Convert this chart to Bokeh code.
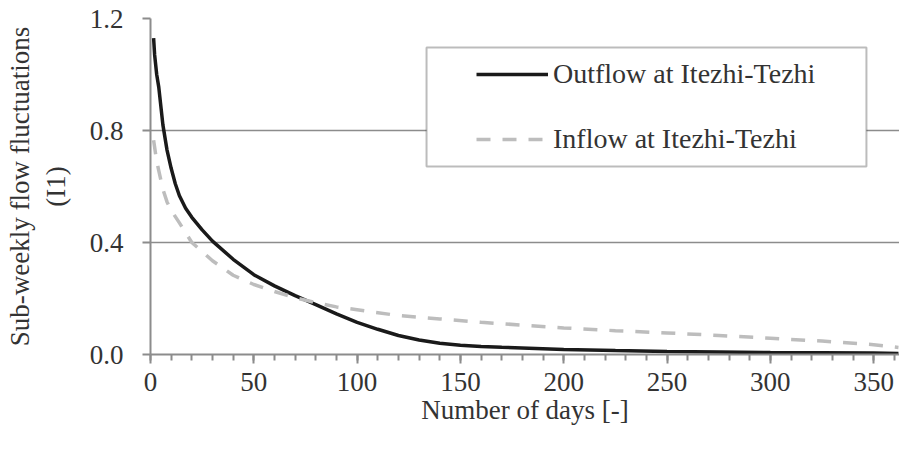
from bokeh.plotting import figure
from bokeh.models import (Legend, LegendItem, BoxAnnotation, FixedTicker,
                          SingleIntervalTicker, NumeralTickFormatter, Range1d)
from bokeh.embed import file_html
from bokeh.resources import INLINE

# ---- data ----
days = [1.5, 2, 3, 4, 6, 8, 10, 12, 14, 17, 20, 25, 30, 40, 50, 60, 70, 80,
        90, 100, 110, 120, 130, 140, 150, 160, 170, 200, 225, 250, 275, 300,
        325, 350, 362]
outflow = [1.13, 1.07, 1.0, 0.955, 0.82, 0.73, 0.665, 0.61, 0.567, 0.522,
           0.49, 0.445, 0.405, 0.34, 0.285, 0.245, 0.21, 0.178, 0.145, 0.115,
           0.09, 0.068, 0.052, 0.04, 0.033, 0.029, 0.026, 0.018, 0.014,
           0.011, 0.009, 0.007, 0.006, 0.005, 0.004]
inflow_days = [1.5, 2, 3, 4, 6, 8, 10, 14, 20, 30, 40, 50, 60, 70, 80, 90,
               100, 120, 140, 160, 180, 200, 225, 250, 275, 300, 325, 350, 362]
inflow = [0.765, 0.74, 0.69, 0.657, 0.59, 0.545, 0.515, 0.47, 0.40, 0.335,
          0.283, 0.25, 0.225, 0.203, 0.185, 0.17, 0.16, 0.139, 0.127, 0.115,
          0.105, 0.095, 0.085, 0.077, 0.068, 0.058, 0.048, 0.035, 0.025]
y_ticks = [0.0, 0.4, 0.8, 1.2]
series_names = ["Outflow at Itezhi-Tezhi", "Inflow at Itezhi-Tezhi"]

FONT = "Liberation Serif"
TXT = "#333333"
GRAY = "#8c8c8c"

p = figure(width=899, height=450, output_backend="svg", toolbar_location=None,
           x_range=Range1d(0, 362.5), y_range=Range1d(0, 1.2),
           min_border_left=150, min_border_right=0, min_border_top=18,
           min_border_bottom=96)
p.outline_line_color = None

r_out = p.line(days, outflow, line_color="#1a1a1a", line_width=3.5)
r_in = p.line(inflow_days, inflow, line_color="#bdbdbd", line_width=3.5,
              line_dash="14 12")

# axes
p.xaxis.ticker = SingleIntervalTicker(interval=50, num_minor_ticks=5)
p.yaxis.ticker = FixedTicker(ticks=y_ticks, minor_ticks=[])
p.yaxis.formatter = NumeralTickFormatter(format="0.0")
for ax in (p.xaxis[0], p.yaxis[0]):
    ax.axis_line_color = GRAY
    ax.axis_line_width = 2
    ax.major_tick_line_color = GRAY
    ax.major_tick_line_width = 2
    ax.minor_tick_line_color = GRAY
    ax.minor_tick_line_width = 2
    ax.major_tick_in = 0
    ax.minor_tick_in = 0
    ax.major_label_text_font = FONT
    ax.major_label_text_font_size = "27px"
    ax.major_label_text_color = TXT
    ax.axis_label_text_font = FONT
    ax.axis_label_text_font_size = "27px"
    ax.axis_label_text_font_style = "normal"
    ax.axis_label_text_color = TXT
p.xaxis.major_tick_out = 9
p.xaxis.minor_tick_out = 6
p.yaxis.major_tick_out = 8
p.yaxis.minor_tick_out = 0
p.xaxis.major_label_standoff = 9
p.yaxis.major_label_standoff = 19
p.xaxis.axis_label = "Number of days [-]"
p.xaxis.axis_label_standoff = 1
p.yaxis.axis_label = "Sub-weekly flow fluctuations\n(I1)"
p.yaxis.axis_label_standoff = 16

p.xgrid.grid_line_color = None
p.ygrid.grid_line_color = GRAY
p.ygrid.grid_line_width = 1.5

# legend box
box = BoxAnnotation(left=133.6, right=346.5, bottom=0.671, top=1.096,
                    fill_color="white", fill_alpha=1.0,
                    line_color="#222222", line_width=2, level="overlay")
p.add_layout(box)

legend = Legend(items=[LegendItem(label=series_names[0], renderers=[r_out]),
                       LegendItem(label=series_names[1], renderers=[r_in])],
                location=(326, 199), orientation="vertical",
                background_fill_alpha=0, border_line_color=None,
                padding=0, margin=0, spacing=33, glyph_width=72,
                glyph_height=20, label_height=20, label_standoff=5,
                label_text_font=FONT, label_text_font_size="28px",
                label_text_color=TXT)
legend.level = "overlay"
p.add_layout(legend, "center")

open("out.html", "w").write(file_html(p, INLINE))
